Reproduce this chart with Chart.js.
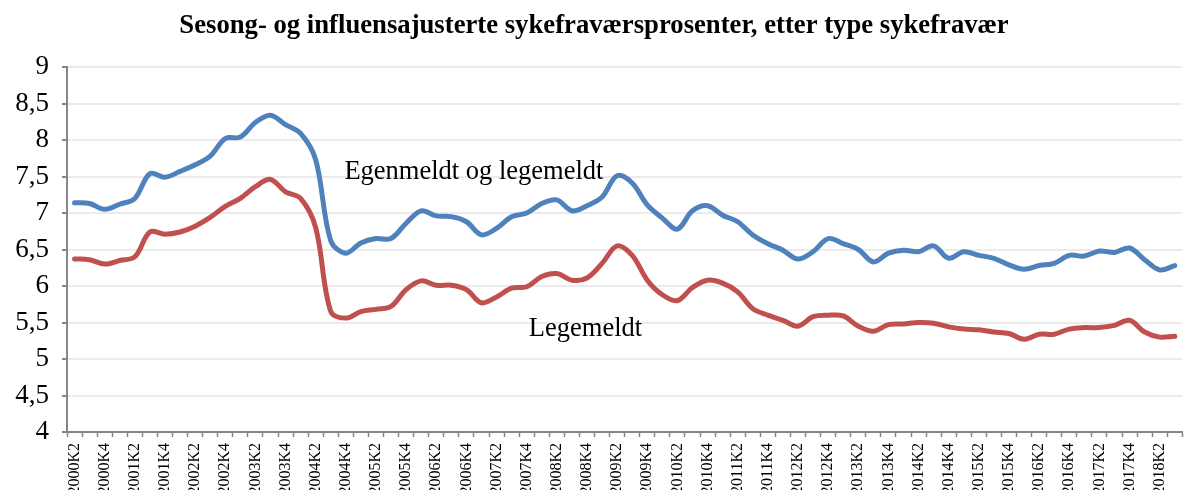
<!DOCTYPE html>
<html>
<head>
<meta charset="utf-8">
<script src="https://cdn.jsdelivr.net/npm/chart.js@4/dist/chart.umd.min.js"></script>
<style>
  html, body { margin: 0; padding: 0; background: #fff; overflow: hidden; }
  #wrap { width: 1200px; height: 490px; }
</style>
</head>
<body>
<div id="wrap"><canvas id="sickChart" width="1200" height="490"></canvas></div>
<script>
// Quarters 2000K2 .. 2018K3
const years = [2000, 2001, 2002, 2003, 2004, 2005, 2006, 2007, 2008, 2009,
  2010, 2011, 2012, 2013, 2014, 2015, 2016, 2017, 2018];
const quarters = [];
years.forEach((y) => {
  for (let q = 1; q <= 4; q++) {
    if (y === 2000 && q === 1) continue;
    if (y === 2018 && q === 4) continue;
    quarters.push(y + 'K' + q);
  }
});

// Egenmeldt og legemeldt (%)
const totalValues = [
  7.14, 7.13, 7.05, 7.12, 7.20, 7.54, 7.49, 7.57, 7.66, 7.78,
  8.02, 8.04, 8.24, 8.34, 8.21, 8.09, 7.73, 6.62, 6.45, 6.59,
  6.65, 6.65, 6.86, 7.03, 6.96, 6.95, 6.88, 6.70, 6.79, 6.95,
  7.00, 7.13, 7.18, 7.03, 7.10, 7.22, 7.51, 7.41, 7.11, 6.93,
  6.78, 7.03, 7.10, 6.97, 6.88, 6.70, 6.58, 6.49, 6.37, 6.47,
  6.65, 6.58, 6.50, 6.33, 6.45, 6.49, 6.47, 6.55, 6.38, 6.47,
  6.42, 6.38, 6.29, 6.23, 6.28, 6.31, 6.42, 6.41, 6.48, 6.46,
  6.52, 6.36, 6.22, 6.28,
];

// Legemeldt (%)
const doctorValues = [
  6.37, 6.36, 6.30, 6.35, 6.40, 6.74, 6.71, 6.74, 6.82, 6.94,
  7.09, 7.20, 7.36, 7.46, 7.29, 7.20, 6.80, 5.65, 5.56, 5.65,
  5.68, 5.72, 5.95, 6.07, 6.01, 6.01, 5.95, 5.77, 5.85, 5.97,
  5.99, 6.13, 6.17, 6.08, 6.11, 6.31, 6.55, 6.42, 6.08, 5.88,
  5.80, 5.98, 6.08, 6.04, 5.92, 5.69, 5.60, 5.53, 5.45, 5.58,
  5.60, 5.59, 5.45, 5.38, 5.47, 5.48, 5.50, 5.49, 5.44, 5.41,
  5.40, 5.37, 5.35, 5.27, 5.34, 5.34, 5.41, 5.43, 5.43, 5.46,
  5.53, 5.37, 5.30, 5.31,
];

const chartTitle = 'Sesong- og influensajusterte sykefraværsprosenter, etter type sykefravær';
const seriesNames = ['Egenmeldt og legemeldt', 'Legemeldt'];

const serif = "'Liberation Serif', 'Times New Roman', serif";
const axisGray = '#868686';

// Title and the text labels sitting next to the lines
const textPlugin = {
  id: 'textPlugin',
  afterDraw(chart) {
    const ctx = chart.ctx;
    const { x, y } = chart.scales;
    ctx.save();
    ctx.fillStyle = '#000';
    ctx.textAlign = 'center';
    ctx.textBaseline = 'middle';
    ctx.font = 'bold 26.7px ' + serif;
    ctx.fillText(chartTitle, 594, 26);

    ctx.font = '26.5px ' + serif;
    ctx.fillText(seriesNames[0], x.getPixelForValue(26.5), y.getPixelForValue(7.56));
    ctx.fillText(seriesNames[1], x.getPixelForValue(33.9), y.getPixelForValue(5.41));
    ctx.restore();
  },
};

const ctx = document.getElementById('sickChart').getContext('2d');

new Chart(ctx, {
  type: 'line',
  data: {
    labels: quarters,
    datasets: [
      {
        label: seriesNames[0],
        data: totalValues,
        borderColor: '#4F81BD',
        borderWidth: 5,
        pointRadius: 0,
        tension: 0.35,
        borderCapStyle: 'round',
        borderJoinStyle: 'round',
        fill: false,
      },
      {
        label: seriesNames[1],
        data: doctorValues,
        borderColor: '#C0504D',
        borderWidth: 5,
        pointRadius: 0,
        tension: 0.35,
        borderCapStyle: 'round',
        borderJoinStyle: 'round',
        fill: false,
      },
    ],
  },
  options: {
    responsive: false,
    animation: false,
    devicePixelRatio: 1,
    layout: { padding: { top: 67, right: 4, bottom: 0, left: 0 } },
    plugins: {
      legend: { display: false },
      title: { display: false },
      tooltip: { enabled: false },
    },
    scales: {
      x: {
        offset: true,
        grid: {
          offset: true,
          drawOnChartArea: false,
          drawTicks: true,
          tickLength: 5,
          tickColor: axisGray,
          tickWidth: 1.5,
        },
        border: { color: axisGray, width: 2 },
        ticks: {
          autoSkip: false,
          maxRotation: 90,
          minRotation: 90,
          padding: 6,
          color: '#000',
          font: { family: serif, size: 16 },
          // only every second quarter gets a label
          callback: function (value, index) {
            return index % 2 === 0 ? this.getLabelForValue(value) : '';
          },
        },
        afterFit: (scale) => { scale.height = 58; },
      },
      y: {
        min: 4,
        max: 9,
        ticks: {
          stepSize: 0.5,
          padding: 13,
          color: '#000',
          font: { family: serif, size: 27 },
          callback: (v) => String(v).replace('.', ','),
        },
        grid: {
          color: '#ebebeb',
          lineWidth: 2,
          tickLength: 5,
          tickColor: axisGray,
        },
        border: { color: axisGray, width: 2 },
        afterFit: (scale) => { scale.width = 67; },
      },
    },
  },
  plugins: [textPlugin],
});
</script>
</body>
</html>
